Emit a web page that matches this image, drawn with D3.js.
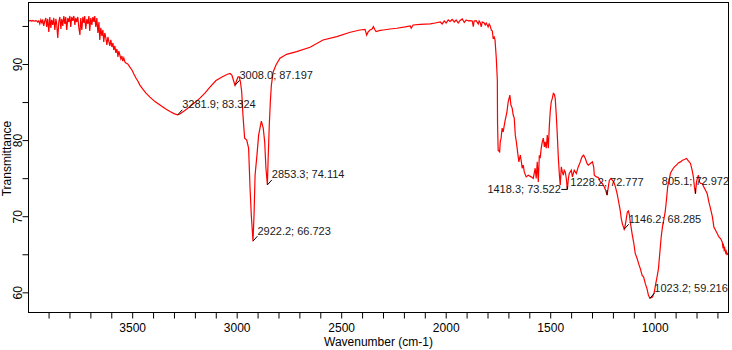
<!DOCTYPE html>
<html>
<head>
<meta charset="utf-8">
<script src="https://cdn.jsdelivr.net/npm/d3@7"></script>
<style>
  body { margin: 0; background: #fff; }
  text { font-family: "Liberation Sans", Arial, sans-serif; }
</style>
</head>
<body>
<div id="main"></div>
<script>
// FTIR spectrum, [wavenumber cm-1, transmittance %]
const spectrum = [
  [3995,95.70],[3990,95.66],[3985,95.72],[3980,95.63],[3976,95.72],[3971,95.66],[3966,95.63],[3961,95.70],
  [3956,95.66],[3952,95.52],[3947,95.66],[3942,95.26],[3937,95.79],[3932,95.39],[3928,95.85],[3923,95.00],
  [3918,95.66],[3913,96.05],[3909,94.87],[3904,95.92],[3899,94.21],[3894,96.18],[3889,94.74],[3885,95.79],
  [3880,95.13],[3875,96.05],[3870,94.47],[3865,95.92],[3861,95.26],[3856,93.42],[3851,95.52],[3846,96.18],
  [3841,94.60],[3837,95.92],[3832,95.00],[3827,96.31],[3822,95.26],[3818,96.18],[3813,94.47],[3808,96.05],
  [3803,95.52],[3798,96.31],[3794,94.87],[3789,96.18],[3784,95.66],[3779,96.31],[3774,95.13],[3770,96.05],
  [3765,95.52],[3760,96.18],[3755,94.74],[3750,93.81],[3746,96.05],[3741,94.47],[3736,96.18],[3731,95.39],
  [3727,96.31],[3722,94.60],[3717,95.92],[3712,95.26],[3707,96.31],[3703,94.34],[3698,96.05],[3693,95.13],
  [3688,96.18],[3683,95.52],[3679,96.31],[3674,94.87],[3669,96.05],[3664,94.08],[3659,95.52],[3655,93.16],
  [3650,94.74],[3645,93.68],[3640,94.47],[3636,92.89],[3631,94.08],[3626,93.42],[3621,92.50],[3616,93.55],
  [3612,93.02],[3607,92.37],[3602,93.16],[3597,92.23],[3592,92.76],[3588,91.84],[3583,92.37],[3578,91.45],
  [3573,91.97],[3568,90.92],[3564,91.71],[3559,91.18],[3554,90.66],[3549,91.05],[3545,90.39],[3540,90.79],
  [3535,90.26],[3530,90.13],[3521,90.00],[3511,89.60],[3501,89.21],[3492,88.68],[3482,88.16],[3473,87.76],
  [3463,87.23],[3449,86.71],[3434,86.18],[3415,85.65],[3391,85.06],[3367,84.60],[3343,84.14],[3319,83.75],
  [3300,83.48],[3282,83.32],[3272,83.42],[3248,83.88],[3224,84.40],[3200,84.93],[3176,85.52],[3152,86.18],
  [3128,86.97],[3099,87.83],[3070,88.29],[3047,88.62],[3032,88.75],[3023,88.55],[3013,87.63],[3008,87.20],
  [3001,87.76],[2994,88.29],[2988,88.33],[2982,87.63],[2976,86.35],[2970,83.29],[2962,80.26],[2952,80.00],
  [2943,78.94],[2936,73.68],[2930,70.13],[2922,66.72],[2917,70.13],[2912,75.39],[2903,78.02],[2895,80.65],
  [2882,82.50],[2873,81.58],[2866,79.77],[2860,76.31],[2853,74.11],[2850,77.10],[2844,81.97],[2839,85.04],
  [2834,87.23],[2825,88.98],[2812,89.87],[2793,90.75],[2761,91.27],[2713,91.62],[2649,92.20],[2587,93.16],
  [2521,93.59],[2457,94.17],[2410,94.47],[2386,94.56],[2378,93.81],[2371,94.21],[2362,94.47],[2352,94.60],
  [2346,94.91],[2338,94.47],[2333,94.25],[2314,94.41],[2299,94.47],[2266,94.60],[2234,94.70],[2194,94.87],
  [2170,95.00],[2165,94.70],[2156,95.13],[2122,95.20],[2074,95.26],[2050,95.39],[2026,95.52],[2017,95.26],
  [2007,95.66],[1998,95.39],[1988,95.79],[1979,95.59],[1969,95.85],[1959,95.52],[1950,95.79],[1940,95.39],
  [1931,95.72],[1921,95.92],[1911,95.46],[1902,95.79],[1892,95.66],[1883,95.70],[1873,95.66],[1868,94.91],
  [1864,95.66],[1854,95.70],[1844,95.26],[1840,95.66],[1835,95.46],[1830,94.87],[1825,95.52],[1816,95.39],
  [1811,95.13],[1806,95.39],[1801,95.13],[1797,94.87],[1792,95.26],[1787,95.00],[1782,94.47],[1777,94.34],
  [1773,93.42],[1768,93.55],[1764,93.16],[1758,90.79],[1753,87.89],[1752,82.23],[1749,78.68],[1742,78.46],
  [1739,79.77],[1735,80.26],[1730,81.58],[1725,81.09],[1717,82.40],[1707,83.72],[1701,85.04],[1693,85.92],
  [1688,84.60],[1682,84.21],[1677,83.29],[1672,82.89],[1667,80.65],[1662,79.77],[1656,78.46],[1650,77.14],
  [1643,78.02],[1638,77.14],[1634,76.31],[1629,76.71],[1624,75.82],[1615,75.17],[1605,75.39],[1591,75.17],
  [1581,74.96],[1572,76.31],[1567,74.96],[1562,77.14],[1557,74.51],[1552,78.02],[1548,77.63],[1543,78.94],
  [1538,79.77],[1533,80.26],[1528,79.11],[1524,79.77],[1519,78.94],[1514,80.65],[1509,78.94],[1504,81.97],
  [1500,83.72],[1495,85.04],[1490,85.48],[1485,86.14],[1480,86.01],[1476,85.48],[1471,83.29],[1466,80.65],
  [1461,77.63],[1456,75.39],[1452,74.07],[1447,76.48],[1442,75.82],[1437,75.39],[1433,76.05],[1428,75.82],
  [1423,74.96],[1418,73.52],[1413,74.96],[1409,75.61],[1404,75.82],[1399,76.05],[1394,75.17],[1385,76.05],
  [1375,75.61],[1366,76.48],[1356,77.14],[1351,77.59],[1346,77.89],[1340,78.02],[1332,77.59],[1324,76.93],
  [1318,76.71],[1308,76.93],[1298,77.14],[1292,76.48],[1289,75.39],[1279,75.17],[1270,75.09],[1260,74.51],
  [1251,74.30],[1241,73.85],[1235,73.42],[1228,72.78],[1222,73.85],[1217,74.73],[1209,74.96],[1203,74.73],
  [1196,74.51],[1188,73.85],[1180,72.98],[1174,72.10],[1168,71.22],[1164,70.56],[1160,69.69],[1155,69.03],
  [1146,68.29],[1141,68.81],[1136,69.69],[1131,70.56],[1126,70.69],[1121,70.13],[1117,69.24],[1112,68.38],
  [1107,67.49],[1101,66.61],[1093,65.09],[1084,64.43],[1077,63.77],[1069,63.11],[1060,62.23],[1053,62.01],
  [1045,61.14],[1037,60.48],[1030,59.60],[1023,59.22],[1011,59.37],[1002,60.03],[995,61.14],[989,62.01],
  [982,63.11],[976,65.09],[969,67.27],[963,68.59],[957,69.47],[950,70.56],[944,72.10],[938,73.85],
  [931,74.73],[925,75.61],[915,76.14],[906,76.48],[896,76.71],[887,77.01],[877,77.14],[867,77.36],
  [858,77.46],[848,77.59],[839,77.27],[829,76.93],[821,76.05],[815,75.17],[810,73.85],[805,72.97],
  [800,74.51],[796,74.96],[791,75.39],[786,74.51],[781,74.30],[773,74.30],[765,73.85],[757,73.42],
  [749,72.98],[741,71.88],[733,71.01],[724,69.90],[717,68.59],[709,68.15],[701,67.72],[693,67.27],
  [685,67.06],[677,66.61],[674,66.00],[671,66.20],[668,65.60],[665,65.80],[661,65.20],[658,65.40],
  [655,65.00],[652,65.10],[648,64.90]
];

// picked peaks: wavenumber, transmittance
const peaks = [
  [3281.9, 83.324], [3008.0, 87.197], [2922.2, 66.723], [2853.3, 74.114],
  [1418.3, 73.522], [1228.2, 72.777], [1146.2, 68.285], [1023.2, 59.216], [805.1, 72.972]
];

const xTicks = d3.range(700, 4000, 100);
const xTickLabels = [1000, 1500, 2000, 2500, 3000, 3500];
const yTicks = [60, 65, 70, 75, 80, 85, 90, 95];
const yTickLabels = [60, 70, 80, 90];

const xDomain = [3996, 647];
const yDomain = [57.35, 98.08];

class SpectrumChart {
  constructor(config) {
    this.config = config;
    this.svg = null;
    this.xScale = null;
    this.yScale = null;
    this.createSvg();
    this.createScales();
  }

  createSvg() {
    this.svg = d3.select(this.config.div)
      .append("svg")
      .attr("width", this.config.width)
      .attr("height", this.config.height);
  }

  createScales() {
    const c = this.config;
    this.xScale = d3.scaleLinear().domain(xDomain).range([c.left, c.right]);
    this.yScale = d3.scaleLinear().domain(yDomain).range([c.bottom, c.top]);
  }

  createAxis() {
    const c = this.config;

    let xAxis = d3.axisBottom(this.xScale)
      .tickValues(xTicks)
      .tickSize(6)
      .tickSizeOuter(0)
      .tickFormat(d => xTickLabels.includes(d) ? d : "");

    let gx = this.svg.append("g")
      .attr("transform", `translate(0,${c.bottom})`)
      .call(xAxis);
    gx.select(".domain").remove();
    gx.selectAll(".tick text")
      .attr("y", 10.5)
      .attr("font-size", 12)
      .attr("font-family", "Liberation Sans, Arial, sans-serif")
      .attr("fill", "#000");

    let yAxis = d3.axisLeft(this.yScale)
      .tickValues(yTicks)
      .tickSize(6)
      .tickSizeOuter(0)
      .tickFormat(d => yTickLabels.includes(d) ? d : "");

    let gy = this.svg.append("g")
      .attr("transform", `translate(${c.left},0)`)
      .call(yAxis);
    gy.select(".domain").remove();
    gy.selectAll(".tick text")
      .attr("x", null)
      .attr("dy", null)
      .attr("text-anchor", "middle")
      .attr("transform", "translate(-7,0) rotate(-90)")
      .attr("font-size", 12)
      .attr("font-family", "Liberation Sans, Arial, sans-serif")
      .attr("fill", "#000");

    // frame
    this.svg.append("rect")
      .attr("x", c.left)
      .attr("y", c.top)
      .attr("width", c.right - c.left)
      .attr("height", c.bottom - c.top)
      .attr("fill", "none")
      .attr("stroke", "#000")
      .attr("stroke-width", 1);

    this.svg.append("text")
      .attr("x", (c.left + c.right) / 2)
      .attr("y", 345.5)
      .attr("text-anchor", "middle")
      .attr("font-size", 12)
      .text("Wavenumber (cm-1)");

    this.svg.append("text")
      .attr("transform", `translate(11,${(c.top + c.bottom) / 2 + 1}) rotate(-90)`)
      .attr("text-anchor", "middle")
      .attr("font-size", 12)
      .text("Transmittance");
  }

  lineRender() {
    const line = d3.line()
      .x(d => this.xScale(d[0]))
      .y(d => this.yScale(d[1]));

    this.svg.append("path")
      .datum(spectrum)
      .attr("d", line)
      .attr("fill", "none")
      .attr("stroke", "#ff0000")
      .attr("stroke-width", 1.2)
      .attr("stroke-linejoin", "miter");
  }

  peaksRender() {
    // where each label sits relative to its peak
    const side = { "1418.3": "left", "1228.2": "above", "805.1": "above" };
    const g = this.svg.append("g");

    peaks.forEach(p => {
      const px = this.xScale(p[0]);
      const py = this.yScale(p[1]);
      const label = `${p[0].toFixed(1)}; ${p[1].toFixed(3)}`;
      const s = side[p[0].toFixed(1)] || "right";

      let lead, tx, ty, anchor;
      if (s === "left") {
        lead = [[px, py - 3], [px, py], [px - 6, py]];
        tx = px - 6.5; ty = py + 4; anchor = "end";
      } else if (s === "above") {
        lead = [[px, py], [px, py - 5]];
        tx = px; ty = py - 9; anchor = "middle";
      } else {
        lead = [[px, py], [px + 4.5, py - 5]];
        tx = px + 4.5; ty = py - 6.5; anchor = "start";
      }

      g.append("path")
        .attr("d", d3.line()(lead))
        .attr("fill", "none")
        .attr("stroke", "#000")
        .attr("stroke-width", 1);

      g.append("text")
        .attr("x", tx)
        .attr("y", ty)
        .attr("text-anchor", anchor)
        .attr("font-size", 11)
        .attr("fill", "#1a1a1a")
        .text(label);
    });
  }
}

function main() {
  let config = { div: "#main", width: 732, height: 350, left: 28.5, right: 728.5, top: 2.5, bottom: 312.5 };
  let app = new SpectrumChart(config);
  app.lineRender();
  app.peaksRender();
  app.createAxis();
}

main();
</script>
</body>
</html>
